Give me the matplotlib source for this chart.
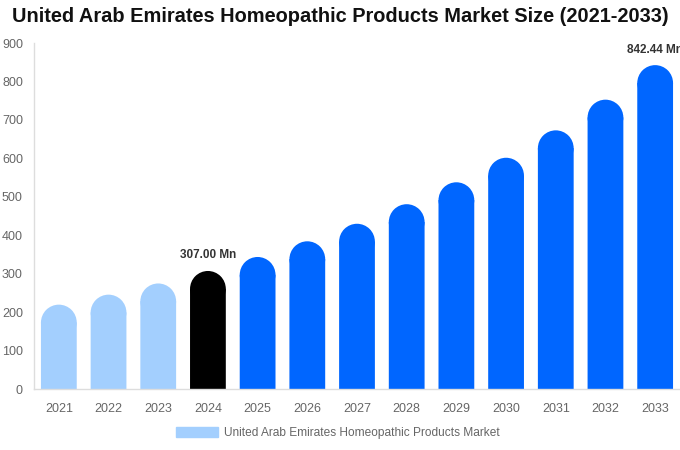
import matplotlib
matplotlib.use("Agg")
import matplotlib.pyplot as plt
from matplotlib.patches import Ellipse, Patch

plt.rcParams['font.family'] = ['Liberation Sans', 'DejaVu Sans']

years = ['2021', '2022', '2023', '2024', '2025', '2026', '2027',
         '2028', '2029', '2030', '2031', '2032', '2033']
values = [219.4, 245.4, 274.5, 307.0, 343.4, 384.2, 429.8,
          480.7, 537.7, 601.5, 672.8, 752.6, 842.44]
bar_colors = ['#a3cffe'] * 3 + ['#000000'] + ['#0066ff'] * 9
labels = {3: '307.00 Mn', 12: '842.44 Mn'}
legend_label = 'United Arab Emirates Homeopathic Products Market'

fig = plt.figure(figsize=(6.8, 4.5), dpi=100)
ax = fig.add_axes([34 / 680, 1 - 389 / 450, 646 / 680, 346 / 450])
ax.set_xlim(-0.5, len(years) - 0.5)
ax.set_ylim(0, 900)

width = 0.72
# radius of the round top in data units (half bar width in pixels)
ax_w_px = 646
ax_h_px = 346
r_px = width / len(years) * ax_w_px / 2
r = r_px * 900 / ax_h_px

for i, v in enumerate(values):
    # body goes a hair into the cap so no seam shows
    ax.bar(i, v - r * 0.99, width=width, color=bar_colors[i], linewidth=0, snap=False)
    ax.add_patch(Ellipse((i, v - r), width, 2 * r, color=bar_colors[i], linewidth=0))
    if i in labels:
        ax.text(i, v + 25, labels[i], ha='center', va='bottom', fontsize=8.5,
                fontweight='bold', color='#333333', clip_on=False)

ax.set_xticks(range(len(years)))
ax.set_xticklabels(years)
ax.set_yticks(range(0, 901, 100))
ax.tick_params(axis='both', length=0, labelsize=9, colors='#666666')
ax.tick_params(axis='x', pad=10)
ax.tick_params(axis='y', pad=8)
for s in ['top', 'right']:
    ax.spines[s].set_visible(False)
for s in ['left', 'bottom']:
    ax.spines[s].set_color('#dddddd')
    ax.spines[s].set_linewidth(1)

fig.suptitle('United Arab Emirates Homeopathic Products Market Size (2021-2033)',
             x=0.5, y=0.985, fontsize=14.4, fontweight='bold', color='#111111')

fig.legend(handles=[Patch(color='#a3cffe', label=legend_label)],
           loc='center', bbox_to_anchor=(0.497, 1 - 433 / 450), frameon=False,
           fontsize=8.6, labelcolor='#666666', handlelength=3.45, handleheight=1.0,
           handletextpad=0.5)

fig.savefig('out.png', dpi=100)
